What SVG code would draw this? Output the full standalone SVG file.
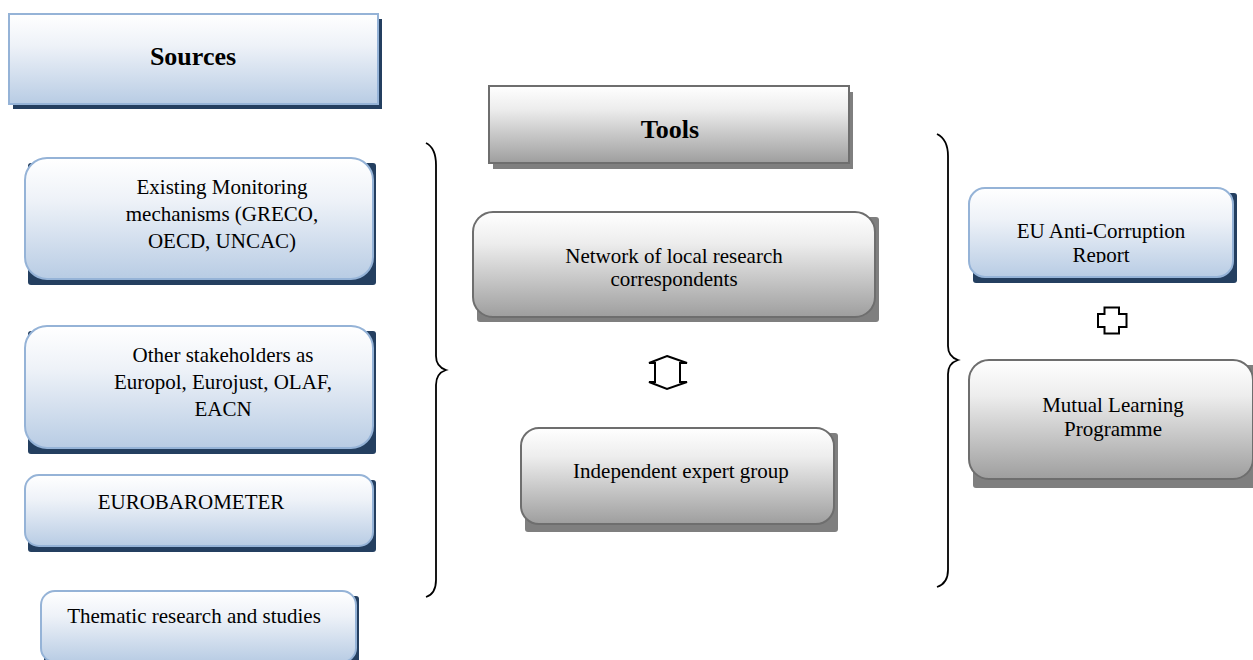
<svg xmlns="http://www.w3.org/2000/svg" width="1253" height="660" viewBox="0 0 1253 660">
  <defs>
    <linearGradient id="blueFill" x1="0" y1="0" x2="0" y2="1">
      <stop offset="0" stop-color="#FFFFFF"/>
      <stop offset="0.35" stop-color="#EEF2F8"/>
      <stop offset="1" stop-color="#B8CCE4"/>
    </linearGradient>
    <linearGradient id="grayFill" x1="0" y1="0" x2="0" y2="1">
      <stop offset="0" stop-color="#FFFFFF"/>
      <stop offset="0.3" stop-color="#EDEDED"/>
      <stop offset="1" stop-color="#9E9E9E"/>
    </linearGradient>
    <clipPath id="reportClip">
      <rect x="969" y="188" width="264" height="75"/>
    </clipPath>
    <style>
      .blue { fill: url(#blueFill); stroke: #95B3D7; stroke-width: 2; }
      .gray { fill: url(#grayFill); stroke: #6E6E6E; stroke-width: 2; }
      .shadowBlue { fill: #243F60; }
      .shadowGray { fill: #7F7F7F; }
      .label { font-family: "Liberation Serif", "Times New Roman", serif; font-size: 21px; fill: #000; text-anchor: middle; }
      .title { font-family: "Liberation Serif", "Times New Roman", serif; font-size: 26px; font-weight: bold; fill: #000; text-anchor: middle; }
      .brace { fill: none; stroke: #000; stroke-width: 1.8; }
      .link { fill: #FFFFFF; stroke: #000; stroke-width: 2; stroke-linejoin: miter; }
    </style>
  </defs>

  <!-- Sources column -->
  <g id="sources">
    <rect class="shadowBlue" x="13" y="19" width="369" height="90"/>
    <rect class="blue" x="9" y="14" width="369" height="90"/>
    <text class="title" x="193" y="65">Sources</text>
  </g>

  <g id="existing-monitoring">
    <rect class="shadowBlue" x="28" y="163" width="348" height="122" rx="3"/>
    <rect class="blue" x="25" y="158" width="348" height="121" rx="22"/>
    <text class="label" x="222" y="194">Existing Monitoring</text>
    <text class="label" x="222" y="221">mechanisms (GRECO,</text>
    <text class="label" x="222" y="248">OECD, UNCAC)</text>
  </g>

  <g id="other-stakeholders">
    <rect class="shadowBlue" x="28" y="331" width="348" height="123" rx="3"/>
    <rect class="blue" x="25" y="326" width="348" height="122" rx="22"/>
    <text class="label" x="223" y="362">Other stakeholders as</text>
    <text class="label" x="223" y="389">Europol, Eurojust, OLAF,</text>
    <text class="label" x="223" y="416">EACN</text>
  </g>

  <g id="eurobarometer">
    <rect class="shadowBlue" x="28" y="480" width="348" height="72" rx="3"/>
    <rect class="blue" x="25" y="475" width="348" height="71" rx="14"/>
    <text class="label" x="191" y="509">EUROBAROMETER</text>
  </g>

  <g id="thematic-research">
    <rect class="shadowBlue" x="44" y="596" width="315" height="72" rx="3"/>
    <rect class="blue" x="41" y="591" width="315" height="71" rx="14"/>
    <text class="label" x="194" y="623">Thematic research and studies</text>
  </g>

  <!-- Tools column -->
  <g id="tools">
    <rect class="shadowGray" x="493" y="92" width="360" height="77"/>
    <rect class="gray" x="489" y="86" width="360" height="77"/>
    <text class="title" x="670" y="138">Tools</text>
  </g>

  <g id="local-correspondents">
    <rect class="shadowGray" x="477" y="217" width="402" height="105" rx="3"/>
    <rect class="gray" x="473" y="212" width="402" height="105" rx="20"/>
    <text class="label" x="674" y="263">Network of local research</text>
    <text class="label" x="674" y="286">correspondents</text>
  </g>

  <g id="expert-group">
    <rect class="shadowGray" x="525" y="433" width="313" height="99" rx="3"/>
    <rect class="gray" x="521" y="428" width="313" height="96" rx="18"/>
    <text class="label" x="681" y="478">Independent expert group</text>
  </g>

  <!-- Outputs column -->
  <g id="anti-corruption-report">
    <rect class="shadowBlue" x="973" y="193" width="264" height="90" rx="3"/>
    <rect class="blue" x="969" y="188" width="264" height="89" rx="16"/>
    <g clip-path="url(#reportClip)">
      <text class="label" x="1101" y="238">EU Anti-Corruption</text>
      <text class="label" x="1101" y="262">Report</text>
    </g>
  </g>

  <g id="mutual-learning">
    <rect class="shadowGray" x="973" y="365" width="284" height="123" rx="3"/>
    <rect class="gray" x="969" y="360" width="284" height="119" rx="20"/>
    <text class="label" x="1113" y="412">Mutual Learning</text>
    <text class="label" x="1113" y="436">Programme</text>
  </g>

  <!-- Connectors: braces and linking arrows -->
  <g id="connectors">
    <path class="brace" d="M426,143 C432,146 436,152 436,165 L436,356 C436,363 440,368 446,370 C440,372 436,377 436,385 L436,580 C436,590 432,595 426,597"/>
    <path class="brace" d="M937,134 C943,137 948,143 948,156 L948,346 C948,353 952,358 958,360 C952,362 948,367 948,374 L948,570 C948,580 943,585 937,587"/>
    <polygon class="link" points="667,356 687,363 680,363 680,382 687,382 667,389 649,382 655,382 655,363 649,363"/>
    <polygon class="link" points="1104.5,307.5 1119,307.5 1119,314 1126.5,314 1126.5,327 1119,327 1119,333.5 1104.5,333.5 1104.5,327 1098,327 1098,314 1104.5,314"/>
  </g>
</svg>
